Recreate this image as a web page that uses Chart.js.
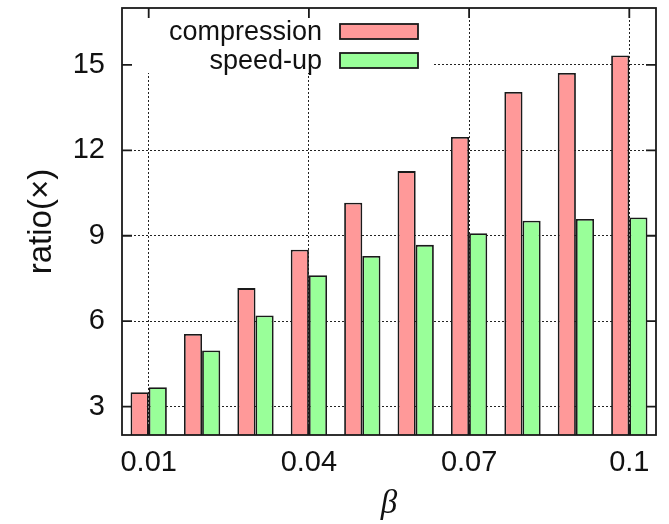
<!DOCTYPE html>
<html>
<head>
<meta charset="utf-8">
<script src="https://cdn.jsdelivr.net/npm/chart.js@4"></script>
<style>
  body { margin: 0; background: #fff; }
  #wrap { width: 669px; height: 524px; }
</style>
</head>
<body>
<div id="wrap"><canvas id="ratioChart" width="669" height="524"></canvas></div>
<script>
// values
const betas = ['0.01', '0.02', '0.03', '0.04', '0.05', '0.06', '0.07', '0.08', '0.09', '0.1'];
const compression = [3.50, 5.55, 7.16, 8.51, 10.16, 11.27, 12.47, 14.05, 14.72, 15.33];
const speedup = [3.68, 4.97, 6.20, 7.61, 8.29, 8.68, 9.09, 9.53, 9.59, 9.64];
const yTicks = [3, 6, 9, 12, 15];
const xTickLabels = ['0.01', '0.04', '0.07', '0.1'];
const seriesNames = ['compression', 'speed-up'];

const isLabelled = i => xTickLabels.includes(betas[i]);

// gnuplot style: opaque key box, full frame, inward mirrored tics
const gnuplotFrame = {
  id: 'gnuplotFrame',
  beforeDatasetsDraw(chart) {
    const { ctx, chartArea: a } = chart;
    ctx.save();
    ctx.fillStyle = '#fff';
    ctx.fillRect(a.left + 1, a.top + 1, 432 - a.left, 72 - a.top);
    ctx.restore();
  },
  afterDatasetsDraw(chart) {
    const { ctx, chartArea: a, scales } = chart;
    ctx.save();
    ctx.strokeStyle = '#1a1a1a';
    ctx.lineWidth = 1.8;
    ctx.setLineDash([]);
    const tl = 10;
    ctx.beginPath();
    yTicks.forEach(v => {
      const y = scales.y.getPixelForValue(v);
      ctx.moveTo(a.left, y); ctx.lineTo(a.left + tl, y);
      ctx.moveTo(a.right, y); ctx.lineTo(a.right - tl, y);
    });
    betas.forEach((b, i) => {
      if (!isLabelled(i)) return;
      const x = scales.x.getPixelForValue(i);
      ctx.moveTo(x, a.bottom); ctx.lineTo(x, a.bottom - tl);
      ctx.moveTo(x, a.top); ctx.lineTo(x, a.top + tl);
    });
    ctx.stroke();
    ctx.strokeRect(a.left, a.top, a.right - a.left, a.bottom - a.top);

    // key
    ctx.font = '27px "Liberation Sans", Arial, sans-serif';
    ctx.textAlign = 'right';
    ctx.textBaseline = 'middle';
    chart.data.datasets.forEach((ds, i) => {
      const cy = 31.5 + i * 29;
      ctx.fillStyle = '#111';
      ctx.fillText(ds.label, 322, cy + 1);
      ctx.fillStyle = ds.backgroundColor;
      ctx.fillRect(340, cy - 7.5, 78, 15);
      ctx.lineWidth = 1.8;
      ctx.strokeStyle = '#1a1a1a';
      ctx.strokeRect(340, cy - 7.5, 78, 15);
    });
    ctx.restore();
  }
};

new Chart(document.getElementById('ratioChart'), {
  type: 'bar',
  data: {
    labels: betas,
    datasets: [
      {
        label: seriesNames[0],
        data: compression,
        backgroundColor: '#ff9999',
        borderColor: '#1a1a1a',
        borderWidth: 1.8,
        categoryPercentage: 0.68,
        barPercentage: 1.0
      },
      {
        label: seriesNames[1],
        data: speedup,
        backgroundColor: '#99ff99',
        borderColor: '#1a1a1a',
        borderWidth: 1.8,
        categoryPercentage: 0.68,
        barPercentage: 1.0
      }
    ]
  },
  options: {
    responsive: false,
    animation: false,
    layout: { padding: { top: 8, right: 13, left: 0, bottom: 0 } },
    plugins: {
      legend: { display: false },
      tooltip: { enabled: false }
    },
    scales: {
      x: {
        offset: true,
        grid: {
          offset: false,
          drawTicks: false,
          color: ctx => isLabelled(ctx.index) ? '#222' : 'rgba(0,0,0,0)',
          lineWidth: 1
        },
        border: { display: false, dash: [2, 2] },
        ticks: {
          autoSkip: false,
          maxRotation: 0,
          padding: 11,
          color: '#111',
          font: { family: '"Liberation Sans", Arial, sans-serif', size: 29 },
          callback: (v, i) => isLabelled(i) ? betas[i] : ''
        },
        title: {
          display: true,
          text: 'β',
          color: '#111',
          font: { family: '"Liberation Serif", "Times New Roman", serif', size: 33, style: 'italic' },
          padding: { top: 0, bottom: 0 }
        },
        afterFit: s => { s.height = 89; s.paddingLeft = 0; s.paddingRight = 0; }
      },
      y: {
        min: 2,
        max: 17,
        afterBuildTicks: s => { s.ticks = yTicks.map(v => ({ value: v })); },
        grid: { drawTicks: false, color: '#222', lineWidth: 1 },
        border: { display: false, dash: [2, 2] },
        ticks: {
          padding: 17,
          color: '#111',
          font: { family: '"Liberation Sans", Arial, sans-serif', size: 29 }
        },
        title: {
          display: true,
          text: 'ratio(×)',
          color: '#111',
          font: { family: '"Liberation Sans", Arial, sans-serif', size: 33 },
          padding: { top: 22, bottom: 0 }
        },
        afterFit: s => { s.width = 122; s.paddingTop = 0; s.paddingBottom = 0; }
      }
    }
  },
  plugins: [gnuplotFrame]
});
</script>
</body>
</html>
